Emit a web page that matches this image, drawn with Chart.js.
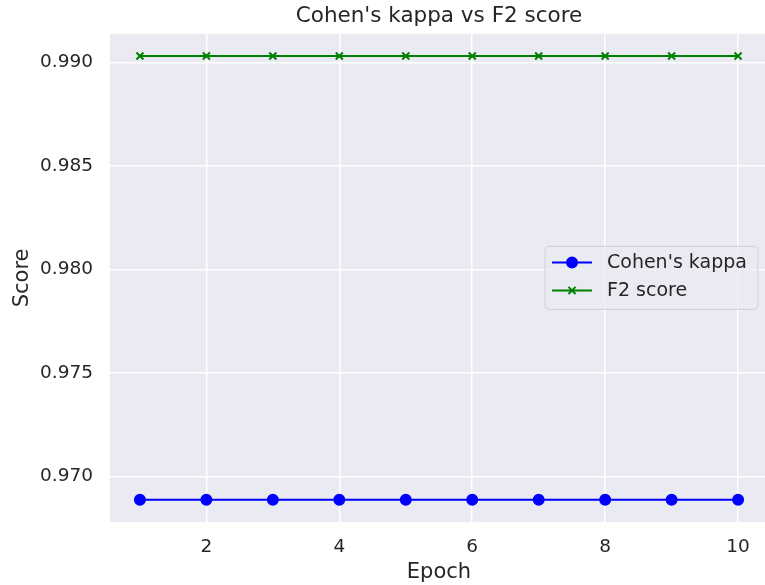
<!DOCTYPE html>
<html>
<head>
<meta charset="utf-8">
<script src="https://cdn.jsdelivr.net/npm/chart.js@4"></script>
<style>
  html, body { margin: 0; padding: 0; background: #ffffff; overflow: hidden; }
  #wrap { width: 775px; height: 585px; }
</style>
</head>
<body>
<div id="wrap"><canvas id="c" width="775" height="585"></canvas></div>
<script>
// Per-epoch metric values
const epochs = [1, 2, 3, 4, 5, 6, 7, 8, 9, 10];
const kappaScores = [0.96888, 0.96888, 0.96888, 0.96888, 0.96888, 0.96888, 0.96888, 0.96888, 0.96888, 0.96888];
const f2Scores = [0.99031, 0.99031, 0.99031, 0.99031, 0.99031, 0.99031, 0.99031, 0.99031, 0.99031, 0.99031];
const xTickValues = [2, 4, 6, 8, 10];
const yTickValues = [0.970, 0.975, 0.980, 0.985, 0.990];

const FONT = "'DejaVu Sans', sans-serif";
const TEXT = '#262626';
const BG = '#EAEAF2';

// 5% margins around the data, like matplotlib's autoscale
function padded(values, frac) {
  const lo = Math.min(...values), hi = Math.max(...values);
  const d = (hi - lo) * frac;
  return [lo - d, hi + d];
}
const [xMin, xMax] = padded(epochs, 0.05);
const [yMin, yMax] = padded(kappaScores.concat(f2Scores), 0.05);

const series = [
  { label: "Cohen's kappa", values: kappaScores, color: '#0000FF', marker: 'circle', radius: 5 },
  { label: 'F2 score', values: f2Scores, color: '#008000', marker: 'crossRot', radius: 5 }
];

// Grey panel behind the plotting area
const panelBg = {
  id: 'panelBg',
  beforeDraw(chart) {
    const { ctx, chartArea: a } = chart;
    ctx.save();
    ctx.fillStyle = BG;
    ctx.fillRect(a.left, a.top, a.right - a.left, a.bottom - a.top);
    ctx.restore();
  }
};

// Framed legend at the centre right of the panel
const panelLegend = {
  id: 'panelLegend',
  afterDatasetsDraw(chart) {
    const { ctx, chartArea: a } = chart;
    const w = 213, h = 63;
    const x0 = a.right - 10 - w;
    const y0 = (a.top + a.bottom) / 2 - h / 2;
    ctx.save();
    ctx.beginPath();
    if (ctx.roundRect) ctx.roundRect(x0, y0, w, h, 4); else ctx.rect(x0, y0, w, h);
    ctx.fillStyle = 'rgba(234,234,242,0.8)';
    ctx.fill();
    ctx.lineWidth = 1;
    ctx.strokeStyle = 'rgba(204,204,204,0.8)';
    ctx.stroke();
    ctx.font = '19px ' + FONT;
    ctx.textBaseline = 'middle';
    ctx.textAlign = 'left';
    series.forEach((s, i) => {
      const cy = y0 + 16 + i * 28;
      const lx = x0 + 7;
      ctx.strokeStyle = s.color;
      ctx.lineWidth = 2;
      ctx.beginPath();
      ctx.moveTo(lx, cy);
      ctx.lineTo(lx + 40, cy);
      ctx.stroke();
      Chart.helpers.drawPoint(ctx, {
        pointStyle: s.marker, radius: s.radius, borderWidth: 2, rotation: 0
      }, lx + 20, cy);
      ctx.fillStyle = s.color;
      if (s.marker === 'circle') {
        ctx.beginPath(); ctx.arc(lx + 20, cy, s.radius, 0, Math.PI * 2); ctx.fill();
      }
      ctx.fillStyle = TEXT;
      ctx.fillText(s.label, x0 + 62, cy + 1);
    });
    ctx.restore();
  }
};

new Chart(document.getElementById('c'), {
  type: 'line',
  data: {
    datasets: series.map(s => ({
      label: s.label,
      data: epochs.map((e, i) => ({ x: e, y: s.values[i] })),
      borderColor: s.color,
      backgroundColor: s.color,
      borderWidth: 2,
      pointStyle: s.marker,
      pointRadius: s.radius,
      pointBorderWidth: 2,
      pointBorderColor: s.color,
      pointBackgroundColor: s.color,
      tension: 0,
      fill: false
    }))
  },
  options: {
    responsive: false,
    animation: false,
    events: [],
    layout: { padding: { left: 0, right: 7, top: 0, bottom: 0 } },
    plugins: {
      legend: { display: false },
      tooltip: { enabled: false },
      title: {
        display: true,
        fullSize: false,
        text: "Cohen's kappa vs F2 score",
        color: TEXT,
        font: { family: FONT, size: 21.5, weight: 'normal' },
        padding: { top: 4, bottom: 4 }
      }
    },
    scales: {
      x: {
        type: 'linear',
        min: xMin,
        max: xMax,
        afterBuildTicks(scale) { scale.ticks = xTickValues.map(v => ({ value: v })); },
        afterFit(scale) { scale.height = 63; },
        grid: { color: '#FFFFFF', lineWidth: 1.5, drawTicks: false },
        border: { display: false },
        ticks: {
          color: TEXT, padding: 14,
          font: { family: FONT, size: 18.5 },
          callback: v => String(v)
        },
        title: {
          display: true, text: 'Epoch', color: TEXT,
          font: { family: FONT, size: 21 },
          padding: { top: 2, bottom: 0 }
        }
      },
      y: {
        type: 'linear',
        min: yMin,
        max: yMax,
        afterBuildTicks(scale) { scale.ticks = yTickValues.map(v => ({ value: v })); },
        afterFit(scale) { scale.width = 110; },
        grid: { color: '#FFFFFF', lineWidth: 1.5, drawTicks: false },
        border: { display: false },
        ticks: {
          color: TEXT, padding: 17,
          font: { family: FONT, size: 18.5 },
          callback: v => Number(v).toFixed(3)
        },
        title: {
          display: true, text: 'Score', color: TEXT,
          font: { family: FONT, size: 21 },
          padding: { top: 10, bottom: 0 }
        }
      }
    }
  },
  plugins: [panelBg, panelLegend]
});
</script>
</body>
</html>
